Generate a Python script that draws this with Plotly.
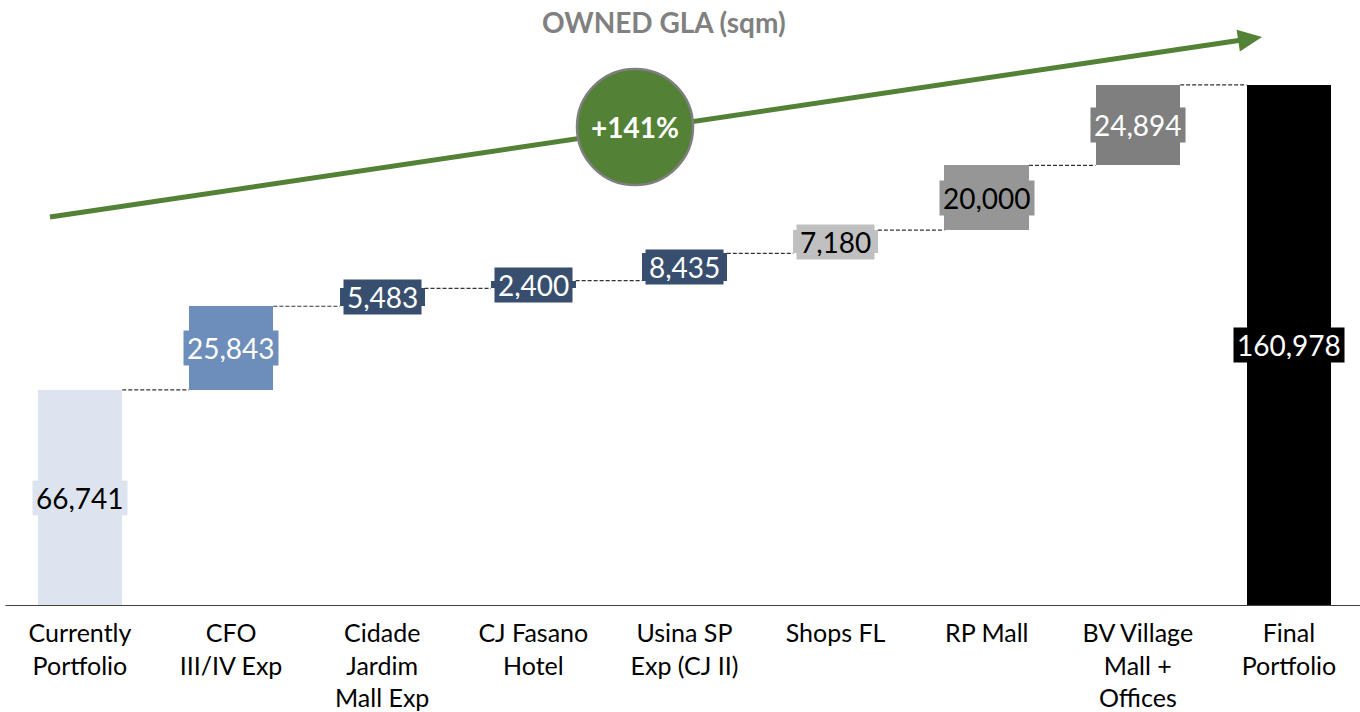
import plotly.graph_objects as go

categories = ["Currently<br>Portfolio", "CFO<br>III/IV Exp", "Cidade<br>Jardim<br>Mall Exp",
              "CJ Fasano<br>Hotel", "Usina SP<br>Exp (CJ II)", "Shops FL", "RP Mall",
              "BV Village<br>Mall +<br>Offices", "Final<br>Portfolio"]
steps = [66741, 25843, 5483, 2400, 8435, 7180, 20000, 24894]
final_total = 160978
growth_label = "+141%"
title_text = "OWNED GLA (sqm)"

bar_colors = ["#DEE4EF", "#6D8EBA", "#374E6E", "#374E6E", "#374E6E", "#C0C0C0", "#969696", "#7F7F7F", "#000000"]
text_colors = ["black", "white", "white", "white", "white", "black", "black", "white", "white"]

W, H = 1360, 712
MT, MB = 7, 106
PH = H - MT - MB
XR = [-0.529, 8.470]
YMAX = 185000
BW = 0.56

# cumulative bases
bases, values = [], []
cum = 0
for i, s in enumerate(steps):
    bases.append(0 if i == 0 else cum)
    values.append(s)
    cum += s
bases.append(0)
values.append(final_total)
tops = [b + v for b, v in zip(bases, values)]

xs = list(range(len(categories)))
fig = go.Figure()
fig.add_trace(go.Bar(x=xs, y=values, base=bases, width=BW, marker=dict(color=bar_colors, line=dict(width=0)),
                     hoverinfo="skip", showlegend=False))

def px2x(px):
    return px / W

def py2y(py):
    return (H - MB - py) / PH

shapes = []
# connectors
for i in range(len(categories) - 1):
    shapes.append(dict(type="line", xref="x", yref="y", x0=i + BW / 2, x1=i + 1 - BW / 2,
                       y0=tops[i], y1=tops[i], line=dict(color="#333333", width=1.2, dash="4px,2px"), layer="above"))
# axis baseline
shapes.append(dict(type="line", xref="paper", yref="y", x0=0.004, x1=1, y0=0, y1=0,
                   line=dict(color="#404040", width=2), layer="above"))

# green arrow (decoration)
GREEN = "#538135"
sx, sy, tx, ty = 50, 217, 1262, 37
dx, dy = tx - sx, ty - sy
L = (dx * dx + dy * dy) ** 0.5
ux, uy = dx / L, dy / L
nx, ny = -uy, ux
hl, hw = 24, 11
bx, by = tx - hl * ux, ty - hl * uy
shapes.append(dict(type="line", xref="paper", yref="paper", x0=px2x(sx), y0=py2y(sy), x1=px2x(bx + 2 * ux), y1=py2y(by + 2 * uy),
                   line=dict(color=GREEN, width=5), layer="above"))
p1 = (bx + hw * nx, by + hw * ny)
p2 = (bx - hw * nx, by - hw * ny)
path = "M {} {} L {} {} L {} {} Z".format(px2x(tx), py2y(ty), px2x(p1[0]), py2y(p1[1]), px2x(p2[0]), py2y(p2[1]))
shapes.append(dict(type="path", xref="paper", yref="paper", path=path, fillcolor=GREEN, line=dict(width=0), layer="above"))
# circle
cx, cy, r = 635, 127, 58
shapes.append(dict(type="circle", xref="paper", yref="paper", x0=px2x(cx - r), x1=px2x(cx + r),
                   y0=py2y(cy + r), y1=py2y(cy - r), fillcolor=GREEN, line=dict(color="#7F7F7F", width=2.5), layer="above"))

FONT = "Lato"
annotations = []
for i in xs:
    annotations.append(dict(x=i, y=bases[i] + values[i] / 2, xref="x", yref="y", text=f"{values[i]:,}",
                            showarrow=False, bgcolor=bar_colors[i], borderpad=3, height=28,
                            xanchor="center", yanchor="middle",
                            font=dict(family=FONT, size=28, color=text_colors[i])))
annotations.append(dict(x=px2x(cx), y=py2y(cy), xref="paper", yref="paper", text=f"<b>{growth_label}</b>",
                        showarrow=False, xanchor="center", yanchor="middle",
                        font=dict(family=FONT, size=28, color="white")))
annotations.append(dict(x=px2x(664), y=py2y(22), xref="paper", yref="paper", text=f"<b>{title_text}</b>",
                        showarrow=False, xanchor="center", yanchor="middle",
                        font=dict(family=FONT, size=28, color="#808080")))

fig.update_layout(
    width=W, height=H, margin=dict(l=0, r=0, t=MT, b=MB),
    plot_bgcolor="white", paper_bgcolor="white",
    shapes=shapes, annotations=annotations, bargap=0,
    xaxis=dict(range=XR, tickvals=xs, ticktext=categories, showgrid=False, zeroline=False, showline=False,
               ticks="", ticklabelstandoff=10, tickfont=dict(family=FONT, size=25, color="black"), fixedrange=True),
    yaxis=dict(range=[0, YMAX], visible=False, fixedrange=True),
    font=dict(family=FONT),
)
fig.write_html("out.html", config={"displayModeBar": False},
               post_script="document.body.style.margin='0px';document.body.style.overflow='hidden';")
